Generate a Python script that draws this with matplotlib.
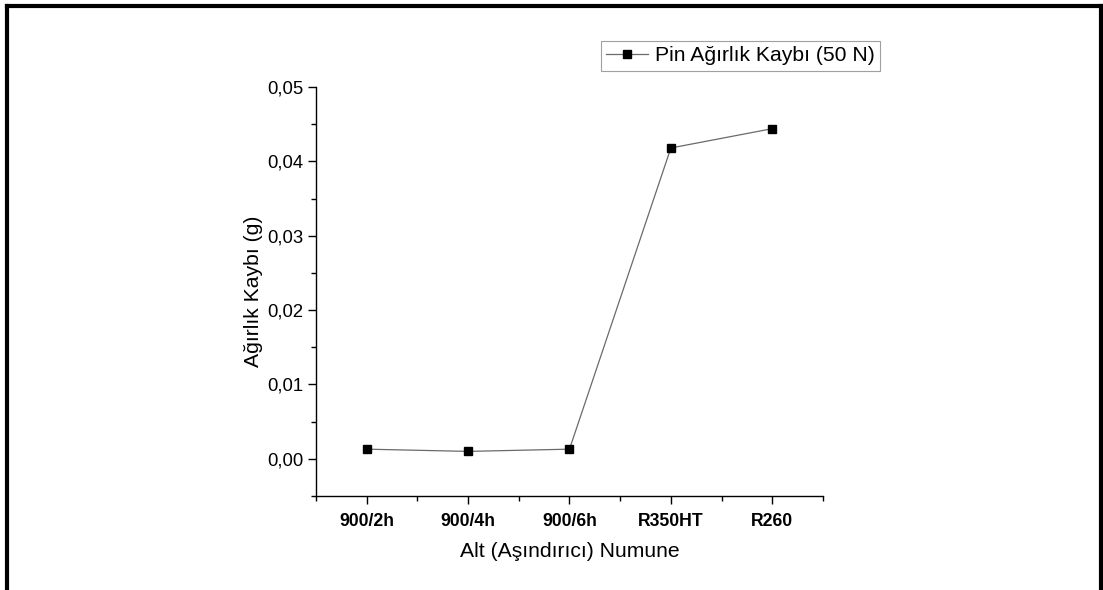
import matplotlib
matplotlib.use("Agg")
import matplotlib.pyplot as plt
from matplotlib.lines import Line2D
from matplotlib.ticker import FuncFormatter, MultipleLocator
import numpy as np

plt.rcParams['font.family'] = ['Liberation Sans', 'DejaVu Sans']

# data
samples = ["900/2h", "900/4h", "900/6h", "R350HT", "R260"]
weight_loss = [0.0013, 0.0010, 0.0013, 0.0418, 0.0444]
series_name = "Pin Ağırlık Kaybı (50 N)"

fig = plt.figure(figsize=(11.03, 5.90), dpi=100)
ax = fig.add_axes([0.2865, 0.1593, 0.4596, 0.6932])

x = np.arange(1, len(samples) + 1)
ax.plot(x, weight_loss, color="#6a6a6a", lw=0.9, marker="s", ms=6.3,
        mfc="black", mec="black", label=series_name)

ax.set_xlim(0.5, len(samples) + 0.5)
ax.set_ylim(-0.005, 0.05)
ax.set_xticks(x)
ax.set_xticklabels(samples, fontweight="bold", fontsize=12.7)
ax.xaxis.set_minor_locator(MultipleLocator(1.0, offset=0.5))
ax.yaxis.set_major_locator(MultipleLocator(0.01))
ax.yaxis.set_minor_locator(MultipleLocator(0.005))
ax.yaxis.set_major_formatter(FuncFormatter(lambda v, p: f"{v:.2f}".replace(".", ",").replace("-0,00", "0,00")))
ax.tick_params(axis="y", labelsize=13.3, pad=3)
ax.tick_params(axis="x", pad=6)
ax.tick_params(which="major", length=6, width=1, direction="out")
ax.tick_params(which="minor", length=3.5, width=1, direction="out")

for s in ["top", "right"]:
    ax.spines[s].set_visible(False)
for s in ["left", "bottom"]:
    ax.spines[s].set_linewidth(1.0)

ax.set_xlabel("Alt (Aşındırıcı) Numune", fontsize=15.2, labelpad=9)
ax.set_ylabel("Ağırlık Kaybı (g)", fontsize=15.2, labelpad=3)

leg = ax.legend(loc="upper left", bbox_to_anchor=(0.562, 1.1125), fontsize=15.2,
                frameon=True, fancybox=False, edgecolor="#888888",
                handlelength=2.0, borderpad=0.25, handletextpad=0.3, borderaxespad=0,
                markerscale=0.85)
leg.get_frame().set_linewidth(0.8)

# page frame around the figure
fig.add_artist(Line2D([6.5 / 1103, 6.5 / 1103], [0, 1 - 5.5 / 590], transform=fig.transFigure, color="black", lw=3))
fig.add_artist(Line2D([1100.5 / 1103, 1100.5 / 1103], [0, 1 - 5.5 / 590], transform=fig.transFigure, color="black", lw=3))
fig.add_artist(Line2D([6.5 / 1103, 1100.5 / 1103], [1 - 5.5 / 590, 1 - 5.5 / 590], transform=fig.transFigure, color="black", lw=3))

fig.savefig("out.png", dpi=100)
